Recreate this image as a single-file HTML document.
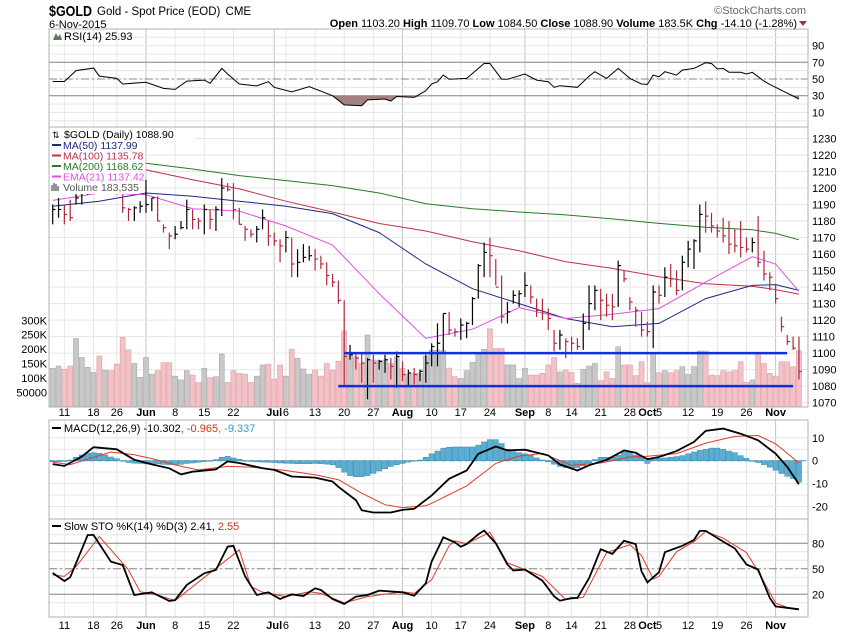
<!DOCTYPE html>
<html><head><meta charset="utf-8"><style>
html,body{margin:0;padding:0;background:#fff;}
svg{display:block;font-family:"Liberation Sans",sans-serif;}
</style></head><body>
<svg id="chart" width="850" height="633" viewBox="0 0 850 633" xmlns="http://www.w3.org/2000/svg">
<rect x="0" y="0" width="850" height="633" fill="#fff"/>
<g id="grid"></g><g id="marks"></g><g id="over"></g>
<text x="49" y="16" font-size="15" font-weight="bold" fill="#000" textLength="43" lengthAdjust="spacingAndGlyphs">$GOLD</text>
<text x="97" y="15" font-size="11.5" fill="#000">Gold - Spot Price (EOD) <tspan dx="2">CME</tspan></text>
<text x="49" y="28" font-size="11" fill="#000">6-Nov-2015</text>
<text x="806" y="14" font-size="11" fill="#666" text-anchor="end">©StockCharts.com</text>
<text x="797" y="27" font-size="11" fill="#000" text-anchor="end"><tspan font-weight="bold">Open</tspan> 1103.20  <tspan font-weight="bold">High</tspan> 1109.70  <tspan font-weight="bold">Low</tspan> 1084.50  <tspan font-weight="bold">Close</tspan> 1088.90  <tspan font-weight="bold">Volume</tspan> 183.5K  <tspan font-weight="bold">Chg</tspan> -14.10 (-1.28%)</text>
<polygon points="799,21 807,21 803,26" fill="#a0303a"/>
</svg>
<script>
// ---- data ----
const highs=[1190,1194,1190,1193,1197,1200,1220,1226,1226,1212,1210,1206,1196,1188,1189,1192,1205,1194,1195,1178,1173,1177,1180,1193,1187,1182,1190,1187,1189,1206,1203,1203,1188,1177,1175,1177,1187,1180,1173,1169,1174,1170,1163,1166,1165,1163,1159,1155,1148,1144,1132,1105,1100,1100,1097,1099,1096,1099,1097,1101,1095,1090,1091,1090,1099,1106,1118,1124,1125,1115,1121,1119,1134,1154,1167,1170,1157,1147,1131,1138,1138,1149,1141,1133,1133,1127,1114,1114,1109,1110,1109,1124,1141,1141,1139,1136,1136,1156,1150,1134,1128,1125,1119,1141,1141,1152,1154,1150,1159,1168,1169,1190,1192,1185,1178,1182,1180,1175,1180,1170,1170,1183,1162,1149,1142,1122,1111,1110,1110];
const lows=[1178,1182,1178,1180,1190,1190,1196,1214,1205,1202,1200,1196,1185,1180,1180,1185,1185,1186,1180,1173,1163,1169,1175,1175,1175,1175,1172,1175,1174,1183,1198,1181,1178,1168,1170,1167,1175,1165,1165,1155,1161,1146,1146,1155,1156,1150,1151,1141,1140,1130,1080,1096,1090,1082,1072,1082,1090,1088,1084,1079,1083,1080,1081,1083,1082,1092,1092,1101,1111,1110,1108,1109,1117,1133,1146,1146,1141,1118,1118,1130,1128,1134,1130,1122,1120,1114,1101,1102,1097,1101,1102,1102,1114,1126,1120,1122,1120,1128,1143,1126,1116,1110,1110,1103,1130,1134,1140,1135,1138,1152,1151,1161,1173,1173,1170,1167,1160,1161,1158,1161,1161,1152,1144,1138,1130,1113,1105,1102,1084];
const closes=[1187,1187,1184,1182,1194,1197,1218,1225,1207,1210,1205,1204,1188,1187,1188,1189,1190,1194,1180,1176,1171,1172,1176,1187,1181,1180,1187,1181,1187,1200,1199,1187,1178,1175,1172,1175,1182,1171,1168,1165,1170,1154,1155,1158,1159,1157,1154,1147,1143,1132,1098,1099,1097,1094,1096,1094,1095,1096,1092,1098,1087,1088,1087,1089,1094,1104,1106,1124,1114,1113,1117,1118,1133,1153,1161,1159,1140,1122,1125,1135,1136,1141,1134,1126,1125,1121,1106,1111,1107,1106,1104,1118,1130,1138,1132,1129,1128,1153,1145,1131,1126,1114,1113,1137,1135,1146,1145,1138,1155,1163,1168,1184,1183,1177,1174,1171,1166,1165,1164,1163,1167,1155,1148,1146,1133,1116,1107,1103,1088.9];
const volumes=[133,141,130,141,237,171,137,119,176,127,125,148,241,197,150,102,171,113,125,153,153,106,93,125,110,84,133,101,104,183,84,125,116,113,84,106,145,148,96,145,106,200,168,131,113,127,106,150,127,158,263,187,174,150,249,162,160,162,150,174,133,113,116,116,176,197,197,194,134,104,98,125,154,185,199,270,202,202,145,145,98,133,110,110,116,145,171,121,127,119,81,130,141,150,90,121,98,208,145,145,108,156,83,187,118,125,118,125,139,112,139,193,193,110,108,125,121,125,156,84,93,187,150,116,106,156,156,139,194];
const maIdx=[0,8,16,24,32,40,48,56,64,72,80,88,96,104,112,120,124,128];
const ma50=[1189,1192,1197,1195,1192,1189,1184.5,1173,1154,1139,1130,1121,1116,1118,1133,1141,1141.5,1137.99];
const ma100=[null,null,1211,1205,1199.5,1192,1185.5,1178.5,1174,1167.5,1162,1155.4,1151.3,1146.3,1142,1140.5,1138.5,1135.78];
const ma200=[null,null,1215,1211.5,1207.5,1204.5,1201.5,1197,1190.5,1187.5,1185.5,1183.7,1181.3,1178.6,1176.3,1174.7,1172.5,1168.62];
const ema21=[1192.5,1197,1196,1187.5,1186,1177,1165.5,1136,1109,1114.5,1127.5,1121,1123.5,1127,1143,1158.4,1154,1137.42];
const rsiIdx=[0,2,4,7,8,11,12,16,19,21,23,26,27,29,30,32,35,37,38,41,44,48,50,53,54,57,58,59,62,64,65,66,67,68,71,74,75,77,78,81,83,85,86,87,90,92,93,95,97,99,101,102,103,104,105,107,108,110,112,113,114,115,116,118,119,120,122,123,124,126,127,128];
const rsiVal=[47,47,60,63,53.5,50.7,44,46,38.7,37.5,47.5,48.7,45,62.7,56,44,41.7,46.8,40,34.5,40.8,30,19,18,25,26,23.5,29,28,36,44,46.8,54.7,49.6,50.7,68.6,68.6,49.9,49.6,56,48.7,46.8,40,42,40,53.5,58.7,50.7,62.7,50.7,44,43.5,54.7,52.7,58.7,54.7,60.7,62.7,69.5,68.6,62,62.7,58,58,56,58,47.5,43.5,40,33,29.7,25.93];
const macdIdx=[0,2,5,7,11,14,17,20,22,24,28,30,32,36,38,41,45,48,49,52,53,55,58,60,62,65,68,71,73,76,78,81,85,87,90,92,95,98,100,102,104,107,110,112,115,118,121,124,126,128];
const macdVal=[-1.5,-2.3,1.8,5.9,5,0.4,-1.6,-3.3,-6,-4.8,-3.8,-0.3,-1,-3.3,-4,-6.9,-7.4,-9.1,-11.4,-17.2,-21.6,-22.6,-22.6,-21.5,-21,-15.2,-7.9,-4.3,3.0,6.2,4.5,4.8,2.3,-1.6,-4.3,-2.0,0.4,4.5,3.5,0.6,1.6,4.2,8.2,13,14,11.8,8.9,3.1,-2.7,-10.302];
const sigIdx=[0,3,7,10,14,17,22,25,30,34,40,45,49,53,57,60,64,65,71,76,80,84,89,94,99,102,107,112,117,121,124,128];
const sigVal=[-0.7,-1.7,1.5,3.8,2.6,0.9,-2.5,-4,-2.5,-2.8,-4.3,-6.1,-8.3,-14.2,-19.2,-20.5,-19.7,-18.6,-11,-1.2,2,3.2,-2,-1,1.6,1.9,3.1,7.7,10.6,11,7.4,-0.965];
const histVal=[-0.5,-0.5,-0.3,0.3,1.5,2.5,3.3,3.5,3.2,2.5,1.6,0.9,0,-0.8,-1.1,-1.2,-1.4,-1.4,-1.4,-1.6,-1.7,-1.7,-1.6,-1.2,-1,-0.7,-0.4,-0.1,0.5,1.5,1.9,1.2,0.6,0,-0.3,-0.5,-0.6,-0.7,-0.8,-1,-1.1,-1.2,-1.3,-1.3,-1.3,-1.2,-1.3,-1.5,-1.8,-3,-5,-6.5,-7,-7,-6.5,-5.5,-4.5,-3.5,-2.5,-1.8,-1.2,-0.6,-0.2,0.3,1.5,3,4.2,5.5,5.9,6,6,6,6,6.8,8.2,9.2,9.2,7.5,5,4,3.5,3,2.5,1.2,0.3,-0.5,-1.5,-2.5,-3,-3.2,-3,-2.2,-1,0.5,1.5,1.5,1.5,2.3,3.8,3.5,2.5,1.5,-1.2,0.5,1,1.2,1.5,1.8,2.2,3,3.8,4.5,5,5.5,5.5,5,4.2,3.5,2.2,1,-0.3,-0.8,-1.7,-2.8,-4.2,-5.6,-6.8,-7.8,-9.337];
const stoKIdx=[0,2,3,6,7,10,12,14,17,20,21,23,26,28,30,31,33,35,37,39,41,43,45,46,48,50,52,54,56,60,62,64,65,67,69,70,71,73,74,76,78,79,81,84,86,87,89,90,92,94,96,98,100,101,102,104,105,108,110,111,112,115,117,119,121,123,124,128];
const stoKVal=[45,35.6,40,89.8,89.8,58.4,54.5,19.2,22.3,12.1,13.3,31,44.7,48.6,76,77,41,19.2,22.3,14.5,20,18,27,25,14.5,8.6,17.3,19.2,24.3,22.3,18.4,33,58.4,87,81,76,79,90.6,95,80,55,48,49,36,17.6,12.5,15.6,15.6,39,73,67.5,83,79,47,34,46,69.5,77,84,94.6,94.6,82,74,55,49,15.6,5.8,2.41];
const stoDIdx=[0,2,4,8,10,13,15,18,21,24,28,32,34,36,40,44,46,50,54,60,62,65,68,69,71,75,78,81,84,88,91,95,99,101,103,104,107,110,112,115,119,121,124,126,128];
const stoDVal=[42.7,41,52.5,88,72.4,48.6,23,19.2,12.5,29,50.6,72.4,29,22.3,17.3,23,21,10,17.3,23,21,37,77,83,79.5,93,57,49,41,13.7,16.5,69,78.5,65.5,38,41,70,82,94,86,69,47,9.7,4.6,2.55];
const tickIdx=[2,7,11,16,21,26,31,38,40,45,50,55,60,65,70,75,81,85,89,94,99,102,104,109,114,119,124];
const tickLbl=["11","18","26","Jun","8","15","22","Jul","6","13","20","27","Aug","10","17","24","Sep","8","14","21","28","Oct","5","12","19","26","Nov"];
const tickMajor=[0,0,0,1,0,0,0,1,0,0,0,0,1,0,0,0,1,0,0,0,0,1,0,0,0,0,1];
const priceTicks=[1230,1220,1210,1200,1190,1180,1170,1160,1150,1140,1130,1120,1110,1100,1090,1080,1070];
const volTicks=[300,250,200,150,100,50];
const volTickLbl=["300K","250K","200K","150K","100K","50000"];
const rsiTicks=[90,70,50,30,10];
const macdTicks=[10,0,-10,-20];
const stoTicks=[80,50,20];
const supportLevels=[1100,1080];
const supportFrom=[50,50];
const supportTo=[127,127];

// ---- scales ----
const L=49,R=808;
const xi=i=>52.7+i*5.83;
const yP=p=>138.5+(1230-p)*1.651;
const yV=v=>406.7-v*0.288;
const yR=r=>62.3+(70-r)*0.835;
const yM=m=>460.7-m*2.29;
const yS=s=>611.3-s*0.85;
const NS="http://www.w3.org/2000/svg";
const G=document.getElementById('grid'),M=document.getElementById('marks'),O=document.getElementById('over');
function mk(par,tag,at){const e=document.createElementNS(NS,tag);for(const k in at)e.setAttribute(k,at[k]);par.appendChild(e);return e;}
function txt(par,x,y,s,at){const e=mk(par,'text',Object.assign({x:x,y:y},at));e.textContent=s;return e;}

const panels=[[29,127],[127,407],[420,519],[519,617]];
panels.forEach(pn=>{
  tickIdx.forEach((t,k)=>{
    const l=mk(G,'line',{x1:xi(t),x2:xi(t),y1:pn[0],y2:pn[1],stroke:tickMajor[k]?'#c4c4c4':'#e6e6e6','stroke-width':1});
    
    
  });
});
for(let r=0;r<=100;r+=10){const l=mk(G,'line',{x1:L,x2:R,y1:yR(r),y2:yR(r),stroke:'#e6e6e6'});}
priceTicks.forEach(p=>{const l=mk(G,'line',{x1:L,x2:R,y1:yP(p),y2:yP(p),stroke:'#e6e6e6'});});
for(let m=10;m>=-20;m-=5){const l=mk(G,'line',{x1:L,x2:R,y1:yM(m),y2:yM(m),stroke:'#e6e6e6'});}
for(let s=10;s<=90;s+=10){const l=mk(G,'line',{x1:L,x2:R,y1:yS(s),y2:yS(s),stroke:'#e6e6e6'});}
[70,30].forEach(r=>{const l=mk(G,'line',{x1:L,x2:R,y1:yR(r),y2:yR(r),stroke:'#888'});});
{const l=mk(G,'line',{x1:L,x2:R,y1:yR(50),y2:yR(50),stroke:'#888','stroke-dasharray':'8,3,2,3'});}
[80,20].forEach(s=>{const l=mk(G,'line',{x1:L,x2:R,y1:yS(s),y2:yS(s),stroke:'#888'});});
{const l=mk(G,'line',{x1:L,x2:R,y1:yS(50),y2:yS(50),stroke:'#888','stroke-dasharray':'8,3,2,3'});}
{const l=mk(G,'line',{x1:L,x2:R,y1:yM(0),y2:yM(0),stroke:'#4aa3c8','stroke-dasharray':'5,3'});}

function pathOf(idx,vals,fy){let d='';idx.forEach((ix,k)=>{if(vals[k]==null)return;d+=(d?'L':'M')+xi(ix).toFixed(1)+','+fy(vals[k]).toFixed(1);});return d;}

// RSI
{
  let poly='';
  rsiIdx.forEach((ix,k)=>{poly+=(poly?'L':'M')+xi(ix).toFixed(1)+','+Math.max(yR(30),yR(rsiVal[k])).toFixed(1);});
  poly+='L'+xi(rsiIdx[rsiIdx.length-1])+','+yR(30)+'L'+xi(rsiIdx[0])+','+yR(30)+'Z';
  const f=mk(M,'path',{d:poly,fill:'#a58080',stroke:'none'});
  
  
  const p=mk(M,'path',{d:pathOf(rsiIdx,rsiVal,yR),fill:'none',stroke:'#000','stroke-width':1});
  
  
}
// volume
volumes.forEach((v,i)=>{
  const up=i===0||closes[i]>=closes[i-1];
  const r=mk(M,'rect',{x:xi(i)-2.5,y:yV(v),width:5,height:406.7-yV(v),fill:up?'#c8c8c8':'#f2c2c6',stroke:up?'#a8a8a8':'#dca0a6','stroke-width':0.6});
  
  
});
// MAs
[[ma200,'#2a7a2a','ma200-line'],[ma100,'#c03048','ma100-line'],[ma50,'#1c2a80','ma50-line'],[ema21,'#e050e0','ema21-line']].forEach(a=>{
  const p=mk(M,'path',{d:pathOf(maIdx,a[0],yP),fill:'none',stroke:a[1],'stroke-width':1});
  
  
});
// price bars
closes.forEach((c,i)=>{
  const up=i===0||c>=closes[i-1];
  const col=up?'#000':'#b0283c';
  const g=mk(M,'g',{stroke:col,'stroke-width':1.2});
  
  
  mk(g,'line',{x1:xi(i),x2:xi(i),y1:yP(highs[i]),y2:yP(lows[i])});
  mk(g,'line',{x1:xi(i),x2:xi(i)+2.8,y1:yP(c),y2:yP(c)});
});
// support lines
supportLevels.forEach((lv,k)=>{
  const l=mk(M,'line',{x1:xi(supportFrom[k])-(k?6:0),x2:xi(supportTo[k])-(k?0:6),y1:yP(lv),y2:yP(lv),stroke:'#1030e0','stroke-width':2.5});
  
  
});
// MACD
histVal.forEach((h,i)=>{
  const y0=yM(0),y1=yM(h);
  const r=mk(M,'rect',{x:xi(i)-2.6,y:Math.min(y0,y1),width:5.2,height:Math.max(0.5,Math.abs(y1-y0)),fill:'#5aaed2',stroke:'#3a88b0','stroke-width':0.5});
  
  
});
{const p=mk(M,'path',{d:pathOf(sigIdx,sigVal,yM),fill:'none',stroke:'#e03a2a','stroke-width':1});}
{const p=mk(M,'path',{d:pathOf(macdIdx,macdVal,yM),fill:'none',stroke:'#000','stroke-width':1.8});}
// STO
{const p=mk(M,'path',{d:pathOf(stoDIdx,stoDVal,yS),fill:'none',stroke:'#e03a2a','stroke-width':1});}
{const p=mk(M,'path',{d:pathOf(stoKIdx,stoKVal,yS),fill:'none',stroke:'#000','stroke-width':1.8});}

// panel borders
panels.forEach(pn=>{const r=mk(O,'rect',{x:L,y:pn[0],width:R-L,height:pn[1]-pn[0],fill:'none',stroke:'#b0b0b0'});});
// axis labels
rsiTicks.forEach(t=>{const e=txt(O,812,yR(t)+4,String(t),{'font-size':11,fill:'#000'});});
priceTicks.forEach(t=>{const e=txt(O,812,yP(t)+4,String(t),{'font-size':11,fill:'#000'});});
volTicks.forEach((t,k)=>{const e=txt(O,47,yV(t)+4,volTickLbl[k],{'font-size':11,fill:'#000','text-anchor':'end'});});
macdTicks.forEach(t=>{const e=txt(O,812,yM(t)+4,String(t),{'font-size':11,fill:'#000'});});
stoTicks.forEach(t=>{const e=txt(O,812,yS(t)+4,String(t),{'font-size':11,fill:'#000'});});
[416,629].forEach(by=>{
  tickIdx.forEach((t,k)=>{
    const e=txt(O,xi(t),by,tickLbl[k],{'font-size':11,fill:'#000','text-anchor':'middle','font-weight':tickMajor[k]?'bold':'normal'});
    
    
  });
});
// legends
{const r=mk(O,'rect',{x:50,y:128,width:145,height:12,fill:'#fff'});}
{const r=mk(O,'rect',{x:50,y:140,width:88,height:54,fill:'#fff'});}
{const e=txt(O,64,40,'RSI(14) 25.93',{'font-size':11,fill:'#000'});}
{const e=mk(O,'path',{d:'M53,40 L56,33 L58,37 L60,34 L62,40 Z',fill:'#5a7a5a'});}
const leg=[['$GOLD (Daily) 1088.90','#000',138,null],['MA(50) 1137.99','#1c2a80',149,'#1c2a80'],['MA(100) 1135.78','#c03048',159.5,'#c03048'],['MA(200) 1168.62','#2a7a2a',170,'#2a7a2a'],['EMA(21) 1137.42','#e050e0',180.5,'#e050e0'],['Volume 183,535','#555',191,null]];
leg.forEach((l,k)=>{
  const e=txt(O,k===0?64:63,l[2],l[0],{'font-size':10.5,fill:l[1]});
  
  
  if(l[3]){const s=mk(O,'line',{x1:52,x2:61,y1:l[2]-4,y2:l[2]-4,stroke:l[3],'stroke-width':2});}
});
{const e=txt(O,52,138,'⇅',{'font-size':9,fill:'#000'});}
{const e=mk(O,'path',{d:'M52,191 V185 M54,191 V183 M56,191 V184 M58,191 V186',stroke:'#666','stroke-width':1.4});}
{const e=txt(O,64,432,'',{'font-size':11,fill:'#000'});
 e.innerHTML='MACD(12,26,9) -10.302<tspan fill="#d03020">, -0.965</tspan><tspan fill="#3a98c0">, -9.337</tspan>';}
{const s=mk(O,'line',{x1:52,x2:61,y1:428,y2:428,stroke:'#000','stroke-width':2});}
{const e=txt(O,64,530,'',{'font-size':11,fill:'#000'});
 e.innerHTML='Slow STO %K(14) %D(3) 2.41, <tspan fill="#d03020">2.55</tspan>';}
{const s=mk(O,'line',{x1:52,x2:61,y1:526,y2:526,stroke:'#000','stroke-width':2});}
</script>
</body></html>
